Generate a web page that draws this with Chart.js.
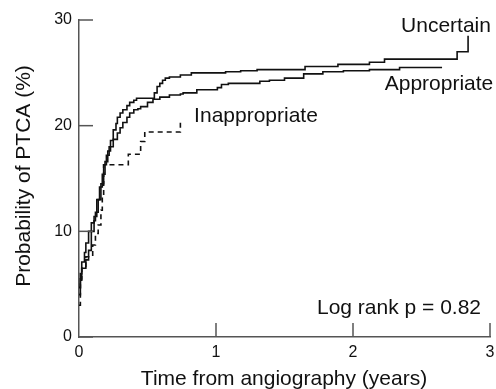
<!DOCTYPE html>
<html>
<head>
<meta charset="utf-8">
<script src="https://cdn.jsdelivr.net/npm/chart.js@4.4.1/dist/chart.umd.min.js"></script>
<style>
  html, body { margin: 0; padding: 0; background: #fff; }
  #chart { display: block; }
</style>
</head>
<body>
<canvas id="chart" width="496" height="389"></canvas>
<script>
// Kaplan-Meier style cumulative curves (years, %)
const uncertainX = [0, 0.01, 0.02, 0.04, 0.05, 0.07, 0.09, 0.11, 0.13, 0.15, 0.17, 0.19, 0.21, 0.23, 0.25, 0.27, 0.28, 0.30, 0.32, 0.35, 0.37, 0.40, 0.42, 0.55, 0.57, 0.59, 0.61, 0.63, 0.66, 0.74, 0.82, 1.07, 1.18, 1.30, 1.65, 1.89, 2.12, 2.23, 2.76, 2.84];
const uncertainY = [4.7, 6.0, 7.1, 8.0, 8.9, 10.0, 10.8, 11.4, 13.0, 14.2, 15.4, 16.6, 17.6, 18.6, 19.6, 20.2, 20.8, 21.2, 21.5, 21.9, 22.2, 22.4, 22.6, 23.1, 23.7, 24.0, 24.3, 24.5, 24.6, 24.8, 25.0, 25.1, 25.2, 25.3, 25.6, 25.8, 26.0, 26.3, 27.0, 28.5];

const appropriateX = [0, 0.01, 0.02, 0.05, 0.07, 0.09, 0.11, 0.12, 0.14, 0.16, 0.18, 0.20, 0.22, 0.25, 0.28, 0.30, 0.32, 0.35, 0.37, 0.40, 0.43, 0.45, 0.50, 0.54, 0.59, 0.66, 0.74, 0.76, 0.86, 1.01, 1.04, 1.09, 1.32, 1.39, 1.50, 1.64, 1.78, 1.93, 2.12, 2.34, 2.65];
const appropriateY = [4.0, 5.5, 6.5, 7.3, 8.2, 10.0, 11.0, 11.8, 13.0, 14.5, 16.3, 17.2, 18.0, 18.7, 19.3, 19.8, 20.3, 20.8, 21.2, 21.5, 21.6, 21.8, 22.2, 22.5, 22.7, 22.9, 23.0, 23.1, 23.4, 23.6, 23.9, 24.0, 24.2, 24.3, 24.5, 24.9, 25.1, 25.2, 25.3, 25.5, 25.5];

const inappropriateX = [0, 0.01, 0.02, 0.05, 0.10, 0.12, 0.14, 0.16, 0.17, 0.18, 0.36, 0.45, 0.48, 0.74];
const inappropriateY = [3.0, 5.0, 6.5, 7.6, 8.7, 9.8, 10.6, 12.0, 13.3, 16.3, 17.3, 18.5, 19.4, 20.4];

const xTicks = [0, 1, 2, 3];
const yTicks = [0, 10, 20, 30];

const FONT = '"Liberation Sans", Arial, Helvetica, sans-serif';
const AXIS_COLOR = '#555';

const toPoints = (xs, ys) => xs.map((x, i) => ({ x, y: ys[i] }));

// inward tick marks + labels drawn on the canvas
const decorations = {
  id: 'decorations',
  afterDraw(chart) {
    const { ctx, scales: { x, y } } = chart;
    ctx.save();
    ctx.strokeStyle = AXIS_COLOR;
    ctx.lineWidth = 1.5;
    yTicks.forEach((v) => {
      const py = y.getPixelForValue(v);
      ctx.beginPath();
      ctx.moveTo(x.left, py);
      ctx.lineTo(x.left + 14, py);
      ctx.stroke();
    });
    xTicks.slice(1).forEach((v) => {
      const px = x.getPixelForValue(v);
      ctx.beginPath();
      ctx.moveTo(px, y.bottom);
      ctx.lineTo(px, y.bottom - 14);
      ctx.stroke();
    });

    ctx.fillStyle = '#111';
    ctx.font = '21px ' + FONT;
    ctx.textAlign = 'center';
    ctx.textBaseline = 'alphabetic';
    ctx.fillText('Uncertain', 446, 32);
    ctx.fillText('Appropriate', 439, 90);
    ctx.fillText('Inappropriate', 256, 122);
    ctx.fillText('Log rank p = 0.82', 399, 314);
    ctx.fillText('Time from angiography (years)', 284, 385);

    ctx.translate(30, 176);
    ctx.rotate(-Math.PI / 2);
    ctx.fillText('Probability of PTCA (%)', 0, 0);
    ctx.restore();
  },
};

const lineStyle = {
  showLine: true,
  stepped: true,
  pointRadius: 0,
  borderColor: '#111',
  borderWidth: 1.6,
  fill: false,
};

new Chart(document.getElementById('chart'), {
  type: 'scatter',
  data: {
    datasets: [
      { label: 'Uncertain', data: toPoints(uncertainX, uncertainY), ...lineStyle },
      { label: 'Appropriate', data: toPoints(appropriateX, appropriateY), ...lineStyle },
      { label: 'Inappropriate', data: toPoints(inappropriateX, inappropriateY), ...lineStyle, borderDash: [5, 4] },
    ],
  },
  options: {
    responsive: false,
    animation: false,
    devicePixelRatio: 1,
    layout: { padding: { top: 20, right: 6, left: 0, bottom: 0 } },
    plugins: { legend: { display: false }, tooltip: { enabled: false } },
    scales: {
      x: {
        type: 'linear',
        min: 0,
        max: 3,
        afterFit: (s) => { s.height = 52; s.paddingLeft = 0; s.paddingRight = 0; },
        afterBuildTicks: (s) => { s.ticks = xTicks.map((v) => ({ value: v })); },
        grid: { display: false, drawTicks: false },
        border: { display: true, color: AXIS_COLOR, width: 1.5 },
        ticks: { color: '#111', padding: 6, font: { family: FONT, size: 16 } },
      },
      y: {
        type: 'linear',
        min: 0,
        max: 30,
        afterFit: (s) => { s.width = 79; s.paddingTop = 0; s.paddingBottom = 0; },
        afterBuildTicks: (s) => { s.ticks = yTicks.map((v) => ({ value: v })); },
        grid: { display: false, drawTicks: false },
        border: { display: true, color: AXIS_COLOR, width: 1.5 },
        ticks: { color: '#111', padding: 7, font: { family: FONT, size: 16 } },
      },
    },
  },
  plugins: [decorations],
});
</script>
</body>
</html>
